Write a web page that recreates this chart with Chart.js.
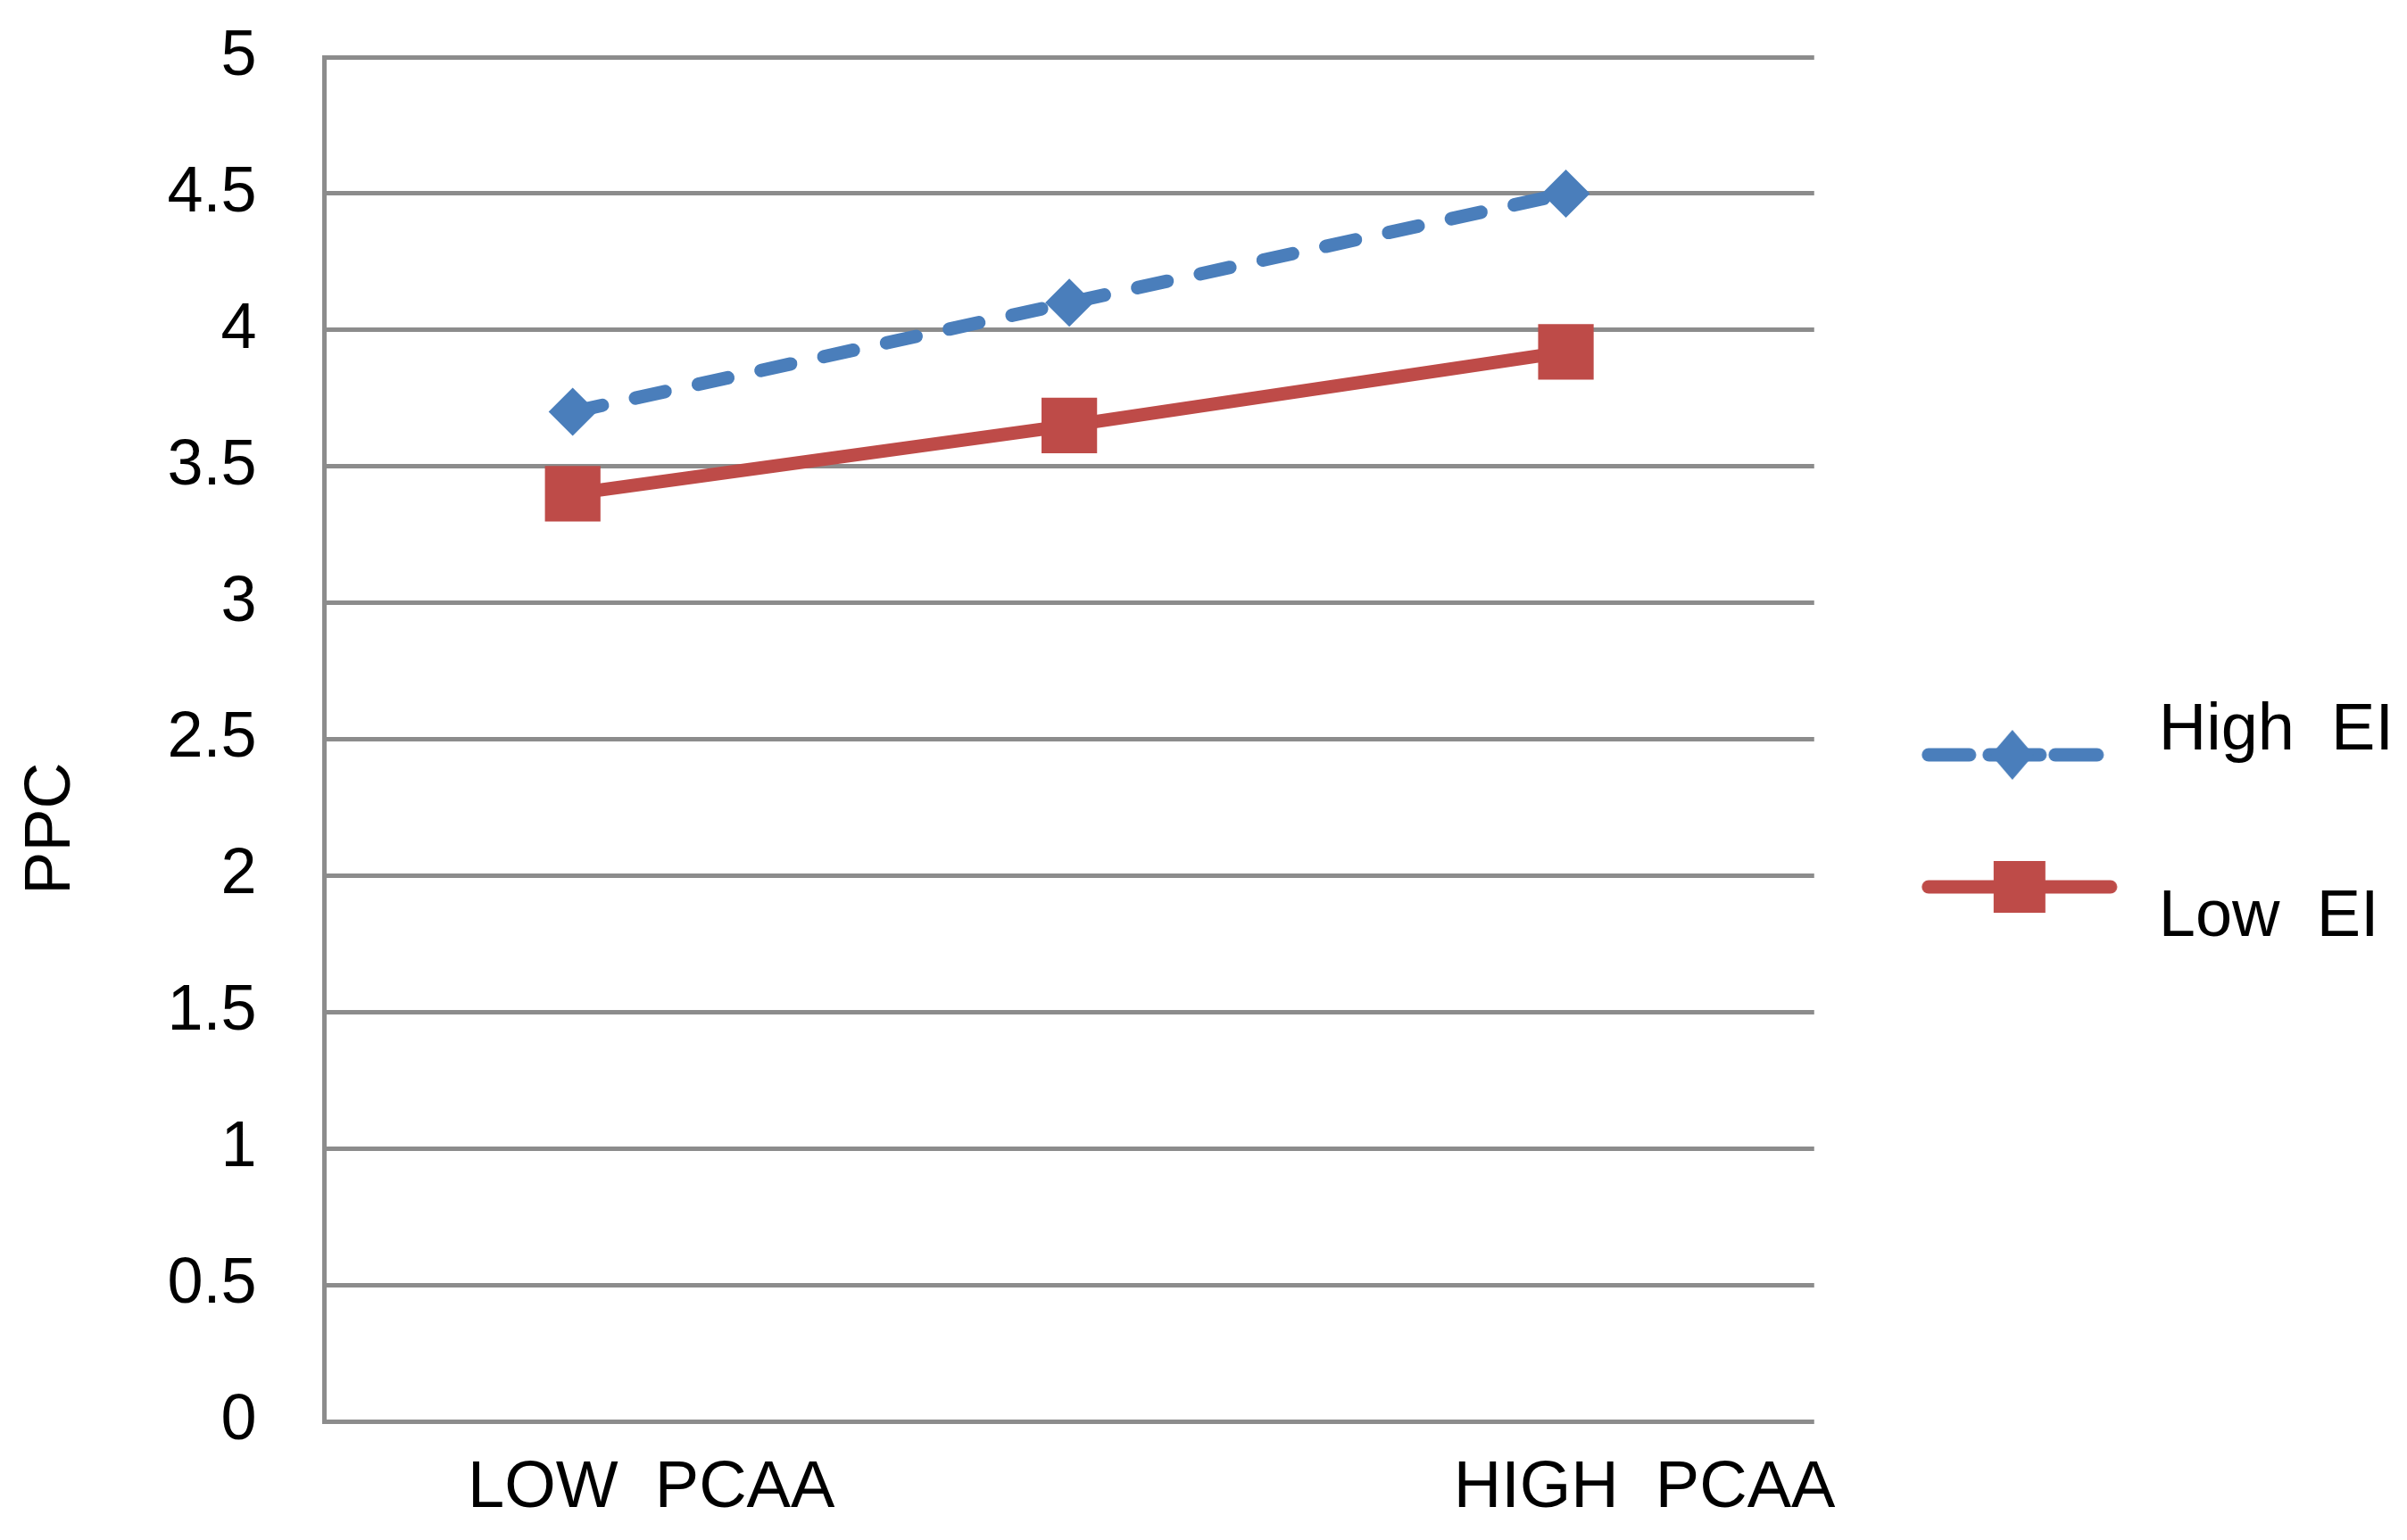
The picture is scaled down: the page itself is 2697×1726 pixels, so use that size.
<!DOCTYPE html>
<html>
<head>
<meta charset="utf-8">
<script src="https://cdn.jsdelivr.net/npm/chart.js@4.4.0/dist/chart.umd.min.js"></script>
<style>
  html, body { margin: 0; padding: 0; background: #fff; }
  #wrap { width: 2697px; height: 1726px; }
</style>
</head>
<body>
<div id="wrap"><canvas id="chart"></canvas></div>
<script>
const categories = ["LOW  PCAA", "", "HIGH  PCAA"];
const seriesNames = ["High  EI", "Low  EI"];
const highEI = [3.7, 4.1, 4.5];
const lowEI = [3.4, 3.65, 3.92];
const yTickLabels = ["0", "0.5", "1", "1.5", "2", "2.5", "3", "3.5", "4", "4.5", "5"];

const blue = "#4a7ebb";
const red = "#be4b48";
const gridGray = "#8c8c8c";

Chart.defaults.font.family = "'Liberation Sans', Arial, sans-serif";
Chart.defaults.color = "#000";

// legend samples: line + marker drawn on a small canvas, used as pointStyle
function makeSample(color, dashed, lineY) {
  const c = document.createElement("canvas");
  c.width = 300;
  c.height = 140;
  const g = c.getContext("2d");
  const cx = 130;
  g.strokeStyle = color;
  g.fillStyle = color;
  g.lineWidth = 15;
  g.lineCap = "round";
  if (dashed) {
    [[-94, -48], [-26, 31], [48, 95]].forEach(seg => {
      g.beginPath();
      g.moveTo(cx + seg[0], lineY);
      g.lineTo(cx + seg[1], lineY);
      g.stroke();
    });
    g.beginPath();
    g.moveTo(cx - 24, lineY);
    g.lineTo(cx, lineY - 28);
    g.lineTo(cx + 24, lineY);
    g.lineTo(cx, lineY + 28);
    g.closePath();
    g.fill();
  } else {
    g.beginPath();
    g.moveTo(cx - 94, lineY);
    g.lineTo(cx + 110, lineY);
    g.stroke();
    g.fillRect(cx + 8 - 29, lineY - 29, 58, 58);
  }
  return c;
}

const samples = [makeSample(blue, true, 96), makeSample(red, false, 35)];

const ctx = document.getElementById("chart").getContext("2d");
new Chart(ctx, {
  type: "line",
  data: {
    labels: categories,
    datasets: [
      {
        label: seriesNames[0],
        data: highEI,
        borderColor: blue,
        backgroundColor: blue,
        borderWidth: 15,
        borderDash: [34, 38],
        borderCapStyle: "round",
        pointStyle: "rectRot",
        pointRadius: 27,
        pointHoverRadius: 27,
        pointBorderWidth: 0,
        tension: 0
      },
      {
        label: seriesNames[1],
        data: lowEI,
        borderColor: red,
        backgroundColor: red,
        borderWidth: 15,
        pointStyle: "rect",
        pointRadius: 44,
        pointHoverRadius: 44,
        pointBorderWidth: 0,
        tension: 0
      }
    ]
  },
  options: {
    responsive: true,
    maintainAspectRatio: false,
    animation: false,
    devicePixelRatio: 1,
    layout: { padding: { left: 5, top: 64, bottom: -18, right: 5 } },
    plugins: {
      tooltip: { enabled: false },
      legend: {
        position: "right",
        align: "start",
        title: { display: true, text: "", font: { size: 10 }, padding: { top: 572, bottom: 0 } },
        labels: {
          usePointStyle: true,
          pointStyleWidth: 214,
          padding: 135,
          font: { size: 74 },
          color: "#000",
          generateLabels: chart => chart.data.datasets.map((ds, i) => ({
            text: ds.label,
            pointStyle: samples[i],
            fillStyle: ds.borderColor,
            strokeStyle: ds.borderColor,
            lineWidth: 0,
            hidden: false,
            datasetIndex: i,
            fontColor: "#000"
          }))
        }
      }
    },
    scales: {
      x: {
        offset: true,
        grid: { display: false, drawTicks: false },
        border: { display: false },
        ticks: {
          font: { size: 74 },
          padding: 31,
          labelOffset: 88,
          autoSkip: false,
          maxRotation: 0
        }
      },
      y: {
        min: 0,
        max: 5,
        grid: { color: gridGray, lineWidth: 5, drawTicks: true, tickLength: 66, tickColor: "rgba(0,0,0,0)" },
        border: { display: true, color: gridGray, width: 5 },
        ticks: {
          stepSize: 0.5,
          padding: 10,
          font: { size: 72 },
          callback: (value, index) => yTickLabels[index]
        },
        title: {
          display: true,
          text: "PPC" + " ".repeat(10),
          font: { size: 72 },
          padding: { top: 10, bottom: 76 }
        }
      }
    }
  }
});
</script>
</body>
</html>
